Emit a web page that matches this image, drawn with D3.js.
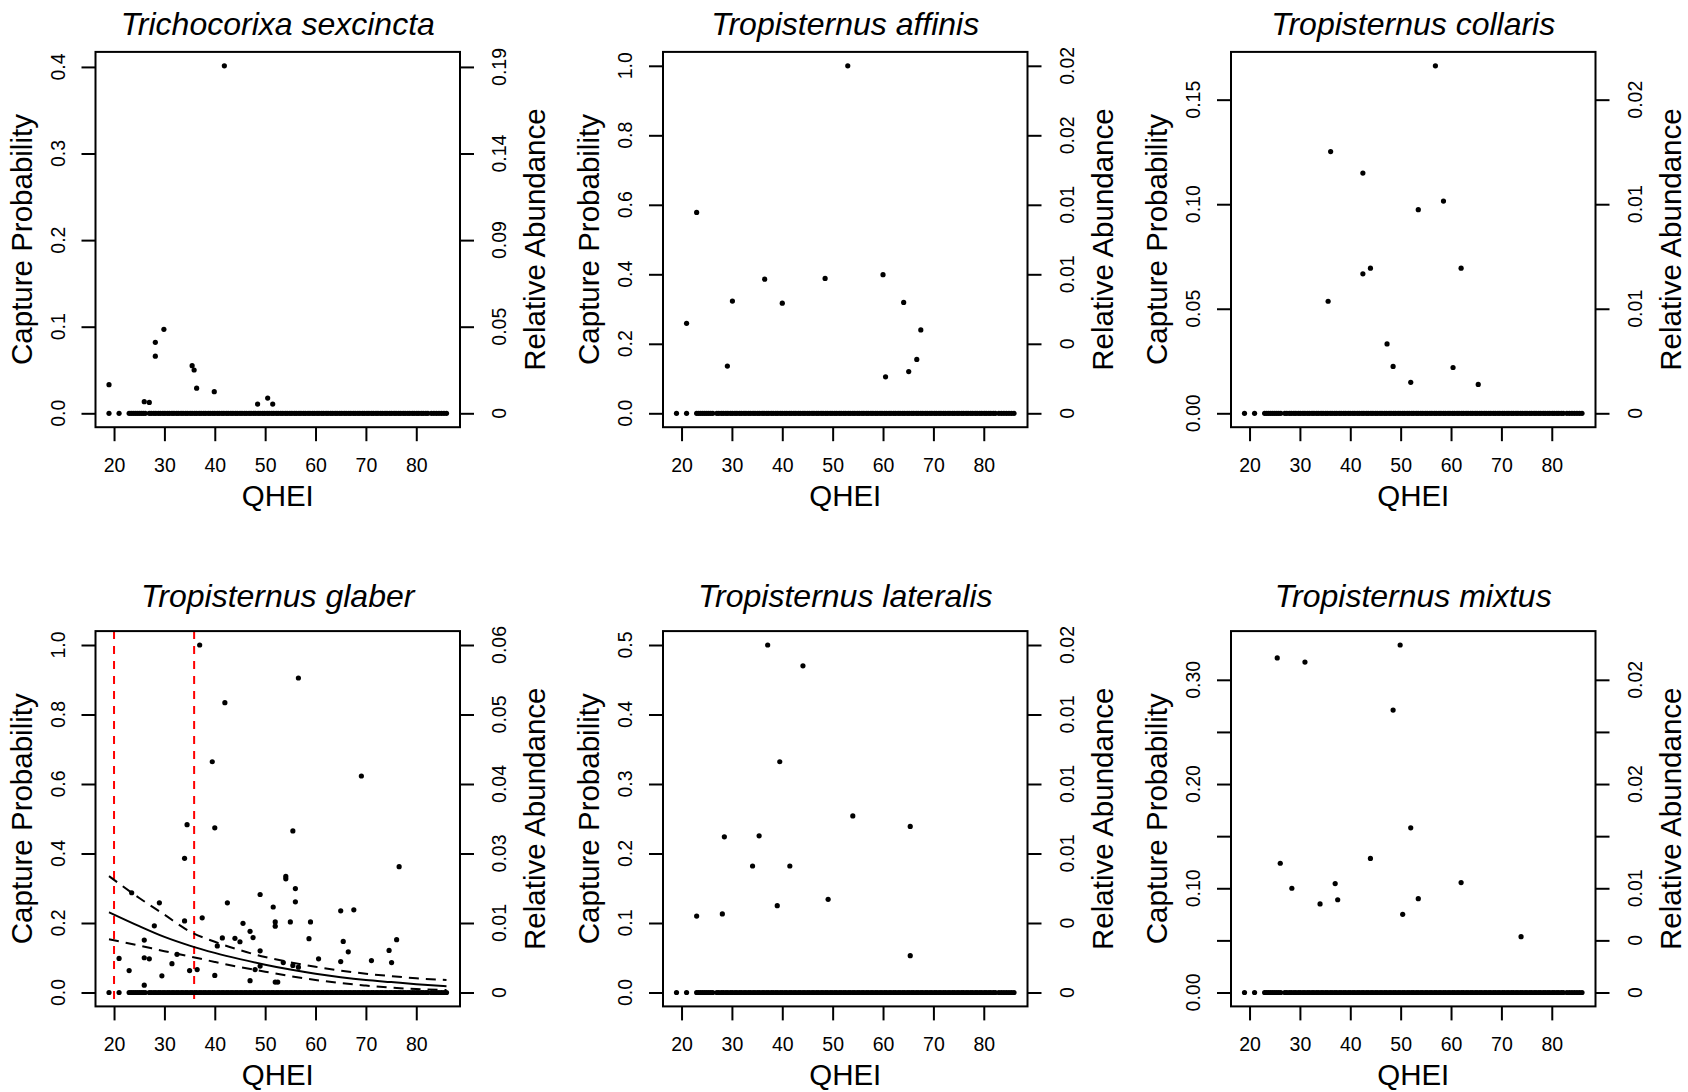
<!DOCTYPE html>
<html>
<head>
<meta charset="utf-8">
<script src="https://cdn.jsdelivr.net/npm/d3@7"></script>
<style>
  html, body { margin: 0; padding: 0; background: #fff; }
  svg { display: block; }
  text { font-family: "Liberation Sans", Arial, Helvetica, sans-serif; fill: #000; }
</style>
</head>
<body>
<svg id="chart" width="1688" height="1092"></svg>
<script>
// ---------------- DATA ----------------
const speciesNames = ["Trichocorixa sexcincta", "Tropisternus affinis", "Tropisternus collaris",
                      "Tropisternus glaber", "Tropisternus lateralis", "Tropisternus mixtus"];
const xTickValues = [20, 30, 40, 50, 60, 70, 80];
const xTitle = "QHEI";
const yTitleLeft = "Capture Probability";
const yTitleRight = "Relative Abundance";

// QHEI of sites where the species was not captured (shared zero row)
const zeroSites = [19, 21, 23, 23.4, 23.8, 24.2, 24.6, 25, 25.4, 25.8, 26.2,
  27, 27.4, 27.9, 28.3, 28.8, 29.2, 29.7, 30.1, 30.6, 31, 31.5, 31.9, 32.4, 32.8, 33.3, 33.7,
  34.2, 34.6, 35.1, 35.5, 36, 36.4, 36.9, 37.3, 37.8, 38.2, 38.7, 39.1, 39.6, 40, 40.5, 40.9,
  41.4, 41.8, 42.3, 42.7, 43.2, 43.6, 44.1, 44.5, 45, 45.4, 45.9, 46.3, 46.8, 47.2, 47.7, 48.1,
  48.6, 49, 49.5, 49.9, 50.4, 50.8, 51.3, 51.7, 52.2, 52.6, 53.1, 53.5, 54, 54.4, 54.9, 55.3,
  55.8, 56.2, 56.7, 57.1, 57.6, 58, 58.5, 58.9, 59.4, 59.8, 60.3, 60.7, 61.2, 61.6, 62.1, 62.5,
  63, 63.4, 63.9, 64.3, 64.8, 65.2, 65.7, 66.1, 66.6, 67, 67.5, 67.9, 68.4, 68.8, 69.3, 69.7,
  70.2, 70.6, 71.1, 71.5, 72, 72.4, 72.9, 73.3, 73.8, 74.2, 74.7, 75.1, 75.6, 76, 76.5, 76.9,
  77.4, 77.8, 78.3, 78.7, 79.2, 79.6, 80.1, 80.5, 81, 81.4, 81.9, 82.3,
  83, 83.5, 84, 84.5, 85, 85.5, 86];

// Non-zero capture probabilities (QHEI, value)
const sexcinctaX = [19, 26, 27, 28.2, 28.2, 29.9, 35.5, 35.9, 36.4, 39.9, 41.9, 48.5, 50.5, 51.5];
const sexcinctaY = [0.033, 0.0134, 0.0126, 0.082, 0.066, 0.097, 0.055, 0.050, 0.029, 0.025, 0.4013, 0.0107, 0.0176, 0.0107];

const affinisX = [21, 23, 29.1, 30.1, 36.5, 40, 48.5, 53, 60, 60.5, 64.1, 65.1, 66.7, 67.5];
const affinisY = [0.259, 0.578, 0.136, 0.323, 0.386, 0.317, 0.388, 1.0, 0.399, 0.105, 0.319, 0.120, 0.155, 0.240];

const collarisX = [36.1, 35.6, 42.5, 42.5, 44.0, 47.3, 48.5, 52.0, 53.5, 56.9, 58.5, 60.4, 62.0, 65.4];
const collarisY = [0.1252, 0.0536, 0.1149, 0.0667, 0.0694, 0.0332, 0.0224, 0.0148, 0.0974, 0.1662, 0.1015, 0.0219, 0.0694, 0.0138];

const glaberX = [21, 23, 23.5, 26, 26, 26, 27, 28, 29, 29.5, 31.5, 32.5, 34, 34, 34.5, 35, 36.5, 37,
  37.5, 39.5, 40, 40, 40.5, 41.5, 42, 42.5, 44, 45, 45.6, 47, 47, 47.6, 48, 49, 49, 49, 51.6, 52,
  52, 52, 52.5, 53.6, 54.1, 54.1, 55, 55.5, 55.5, 56, 56, 56.6, 56.6, 58.7, 59, 60.6, 65, 65, 65.5,
  66.5, 67.6, 69.1, 71.1, 74.6, 75.1, 76.1, 76.6];
const glaberY = [0.098, 0.063, 0.287, 0.151, 0.100, 0.021, 0.097, 0.192, 0.258, 0.048, 0.083, 0.110, 0.386,
  0.206, 0.483, 0.063, 0.066, 1.0, 0.215, 0.664, 0.474, 0.049, 0.134, 0.157, 0.834, 0.258, 0.156,
  0.146, 0.199, 0.176, 0.034, 0.158, 0.066, 0.282, 0.120, 0.076, 0.246, 0.203, 0.191, 0.030, 0.030,
  0.086, 0.334, 0.327, 0.203, 0.465, 0.078, 0.299, 0.261, 0.905, 0.073, 0.155, 0.203, 0.097, 0.235,
  0.089, 0.147, 0.117, 0.238, 0.623, 0.092, 0.121, 0.086, 0.152, 0.362];

const lateralisX = [23, 28.1, 28.5, 34.1, 35.4, 37.1, 39, 39.5, 41.5, 44.1, 49.1, 54, 65.4, 65.4];
const lateralisY = [0.110, 0.113, 0.224, 0.182, 0.2255, 0.5, 0.125, 0.332, 0.182, 0.470, 0.134, 0.254, 0.239, 0.053];

const mixtusX = [25.5, 26.1, 28.4, 31, 34, 37, 37.5, 44, 48.5, 49.9, 50.4, 52, 53.5, 62, 73.9];
const mixtusY = [0.321, 0.124, 0.100, 0.317, 0.085, 0.1045, 0.089, 0.1286, 0.271, 0.3334, 0.075, 0.158, 0.090, 0.1055, 0.0536];

// Fitted curve for T. glaber (QHEI, fit, upper, lower)
const fitX     = [19, 25, 30, 35, 40, 45, 50, 55, 60, 65, 70, 75, 80, 86];
const fitMid   = [0.231, 0.191, 0.160, 0.135, 0.114, 0.096, 0.080, 0.066, 0.054, 0.044, 0.036, 0.030, 0.024, 0.018];
const fitUpper = [0.335, 0.272, 0.224, 0.176, 0.146, 0.122, 0.102, 0.087, 0.074, 0.063, 0.054, 0.047, 0.041, 0.036];
const fitLower = [0.153, 0.135, 0.119, 0.104, 0.088, 0.073, 0.060, 0.047, 0.036, 0.027, 0.020, 0.014, 0.010, 0.007];
const glaberThresholds = [20, 35.9];

// Axis ticks and labels
const leftTicks = [
  [0, 0.1, 0.2, 0.3, 0.4],
  [0, 0.2, 0.4, 0.6, 0.8, 1.0],
  [0, 0.05, 0.10, 0.15],
  [0, 0.2, 0.4, 0.6, 0.8, 1.0],
  [0, 0.1, 0.2, 0.3, 0.4, 0.5],
  [0, 0.05, 0.10, 0.15, 0.20, 0.25, 0.30]
];
const leftLabels = [
  ["0.0", "0.1", "0.2", "0.3", "0.4"],
  ["0.0", "0.2", "0.4", "0.6", "0.8", "1.0"],
  ["0.00", "0.05", "0.10", "0.15"],
  ["0.0", "0.2", "0.4", "0.6", "0.8", "1.0"],
  ["0.0", "0.1", "0.2", "0.3", "0.4", "0.5"],
  ["0.00", "", "0.10", "", "0.20", "", "0.30"]
];
const rightLabels = [
  ["0", "0.05", "0.09", "0.14", "0.19"],
  ["0", "0", "0.01", "0.01", "0.02", "0.02"],
  ["0", "0.01", "0.01", "0.02"],
  ["0", "0.01", "0.03", "0.04", "0.05", "0.06"],
  ["0", "0", "0.01", "0.01", "0.01", "0.02"],
  ["0", "0", "0.01", "", "0.02", "", "0.02"]
];

// ---------------- LAYOUT ----------------
const colLeft = [95.5, 663, 1231];
const rowTop = [51.9, 631.1];
const titleBase = [34.5, 606.5];
const boxW = 364.5, boxH = 375.3;
const tickLen = 14;
const fsTick = 19.5, fsLab = 29.5, fsTitle = 32;

const svg = d3.select("#chart");

const panels = [
  {xs: sexcinctaX, ys: sexcinctaY},
  {xs: affinisX, ys: affinisY},
  {xs: collarisX, ys: collarisY},
  {xs: glaberX, ys: glaberY, fit: true},
  {xs: lateralisX, ys: lateralisY},
  {xs: mixtusX, ys: mixtusY}
];

function padDomain(lo, hi) {
  const r = hi - lo;
  return [lo - 0.04 * r, hi + 0.04 * r];
}

const xExt = d3.extent(zeroSites);

panels.forEach((p, i) => {
  const col = i % 3, row = Math.floor(i / 3);
  const L = colLeft[col], T = rowTop[row], R = L + boxW, B = T + boxH;

  const x = d3.scaleLinear().domain(padDomain(xExt[0], xExt[1])).range([L, R]);
  const y = d3.scaleLinear().domain(padDomain(0, d3.max(p.ys))).range([B, T]);

  const g = svg.append("g");

  // red threshold lines (behind points)
  if (p.fit) {
    g.selectAll("line.thr").data(glaberThresholds).enter().append("line")
      .attr("x1", d => x(d)).attr("x2", d => x(d))
      .attr("y1", T).attr("y2", B)
      .attr("stroke", "#ff0000").attr("stroke-width", 2).attr("stroke-dasharray", "8,7");
  }

  // zero points
  g.selectAll("circle.z").data(zeroSites).enter().append("circle")
    .attr("cx", d => x(d)).attr("cy", y(0)).attr("r", 2.6).attr("fill", "#000");

  // non-zero points
  g.selectAll("circle.p").data(p.xs.map((v, k) => [v, p.ys[k]])).enter().append("circle")
    .attr("cx", d => x(d[0])).attr("cy", d => y(d[1])).attr("r", 2.6).attr("fill", "#000");

  // fitted curves
  if (p.fit) {
    const line = d3.line().x(d => x(d[0])).y(d => y(d[1])).curve(d3.curveMonotoneX);
    const series = [[fitMid, null], [fitUpper, "10,7"], [fitLower, "10,7"]];
    series.forEach(([vals, dash]) => {
      g.append("path").datum(fitX.map((v, k) => [v, vals[k]]))
        .attr("d", line).attr("fill", "none").attr("stroke", "#000")
        .attr("stroke-width", 2).attr("stroke-dasharray", dash);
    });
  }

  // box
  g.append("rect").attr("x", L).attr("y", T).attr("width", boxW).attr("height", boxH)
    .attr("fill", "none").attr("stroke", "#000").attr("stroke-width", 2);

  // bottom axis
  const xAxis = d3.axisBottom(x).tickValues(xTickValues).tickSize(tickLen).tickPadding(0).tickFormat(d3.format("d"));
  const gx = g.append("g").attr("transform", `translate(0,${B})`).call(xAxis);
  gx.select(".domain").remove();
  gx.selectAll(".tick line").attr("stroke", "#000").attr("stroke-width", 2);
  gx.selectAll(".tick text").attr("y", 45).attr("dy", null)
    .style("font-size", fsTick + "px").attr("font-family", null);

  // left axis
  const lt = leftTicks[i], ll = leftLabels[i], rl = rightLabels[i];
  const yAxisL = d3.axisLeft(y).tickValues(lt).tickSize(tickLen).tickFormat("");
  const gl = g.append("g").attr("transform", `translate(${L},0)`).call(yAxisL);
  gl.select(".domain").remove();
  gl.selectAll(".tick line").attr("stroke", "#000").attr("stroke-width", 2);
  g.selectAll("text.ll").data(lt).enter().append("text")
    .attr("transform", d => `translate(${L - 31},${y(d)}) rotate(-90)`)
    .attr("text-anchor", "middle").style("font-size", fsTick + "px")
    .text((d, k) => ll[k]);

  // right axis
  const yAxisR = d3.axisRight(y).tickValues(lt).tickSize(tickLen).tickFormat("");
  const gr = g.append("g").attr("transform", `translate(${R},0)`).call(yAxisR);
  gr.select(".domain").remove();
  gr.selectAll(".tick line").attr("stroke", "#000").attr("stroke-width", 2);
  g.selectAll("text.rl").data(lt).enter().append("text")
    .attr("transform", d => `translate(${R + 46},${y(d)}) rotate(-90)`)
    .attr("text-anchor", "middle").style("font-size", fsTick + "px")
    .text((d, k) => rl[k]);

  // axis titles
  g.append("text").attr("x", (L + R) / 2).attr("y", B + 78.5)
    .attr("text-anchor", "middle").style("font-size", fsLab + "px").text(xTitle);
  g.append("text").attr("transform", `translate(${L - 64},${(T + B) / 2}) rotate(-90)`)
    .attr("text-anchor", "middle").style("font-size", fsLab + "px").text(yTitleLeft);
  g.append("text").attr("transform", `translate(${R + 85},${(T + B) / 2}) rotate(-90)`)
    .attr("text-anchor", "middle").style("font-size", fsLab + "px").text(yTitleRight);

  // panel title
  g.append("text").attr("x", (L + R) / 2).attr("y", titleBase[row])
    .attr("text-anchor", "middle").style("font-size", fsTitle + "px").style("font-style", "italic")
    .text(speciesNames[i]);
});
</script>
</body>
</html>
